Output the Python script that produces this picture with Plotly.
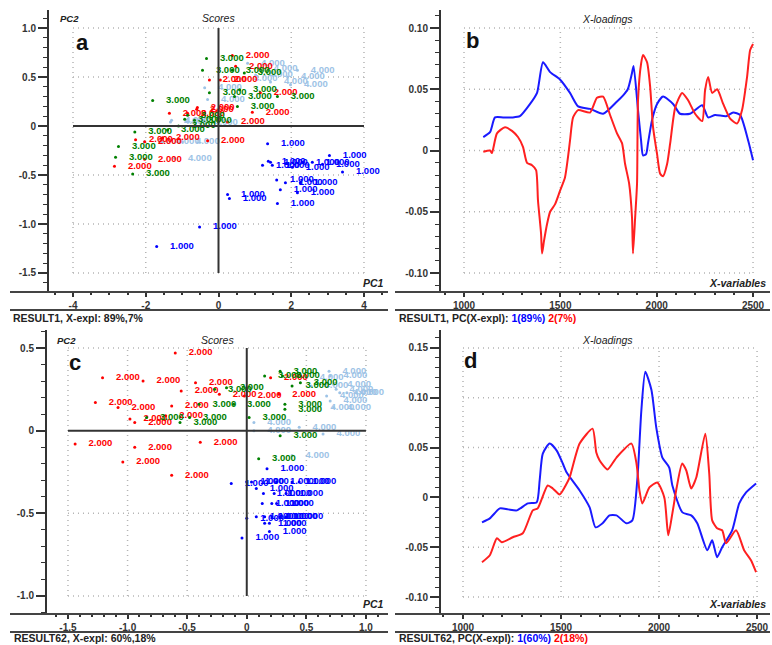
import plotly.graph_objects as go

W, H = 772, 645
FONT = "Liberation Sans"
NB = "\u00a0"

# ---------------- Panel a: scores (RESULT1) ----------------
a1_x = [1.35, 1.43, 1.21, 1.37, 1.48, 2.03, 2.31, 2.58, 2.86, 3.05, 3.41, 1.84, 2.25, 1.70, 2.17, 0.25, 0.30, 1.62, 1.60, -0.52, -1.70]
a1_y = [-0.18, -0.37, -0.40, -0.36, -0.40, -0.42, -0.37, -0.37, -0.39, -0.30, -0.47, -0.58, -0.58, -0.65, -0.68, -0.70, -0.74, -0.79, -0.55, -1.03, -1.23]
a2_x = [0.38, 0.47, -0.25, 0.05, 1.15, 0.93, 0.25, -0.58, -0.85, -1.35, -0.30, -1.54, -2.03, -2.28, -2.86, -2.03, -0.60]
a2_y = [0.72, 0.61, 0.47, 0.47, 0.34, 0.14, 0.04, 0.19, 0.13, 0.13, -0.15, -0.12, -0.16, -0.14, -0.41, -0.34, 0.17]
a3_x = [-0.33, -1.81, -0.44, 0.38, -0.25, 0.58, 0.44, 1.62, 0.52, 0.71, -2.30, -2.75, -2.83, -2.36, -1.40, -0.93, -0.85, -0.66, -1.10]
a3_y = [0.69, 0.26, 0.57, 0.57, 0.34, 0.37, 0.30, 0.30, 0.20, 0.54, -0.06, -0.21, -0.32, -0.49, -0.04, 0.07, 0.11, 0.06, 0.0]
a4_x = [-1.21, 1.15, 1.43, 1.90, 1.98, 0.80, 2.17, 1.02, -0.38, -0.30, -1.29, -2.03, -1.54, -0.99, -1.32, -0.49, 0.60]
a4_y = [-0.33, 0.59, 0.45, 0.50, 0.42, 0.64, 0.57, 0.52, 0.39, 0.27, 0.06, -0.16, -0.16, -0.16, 0.04, 0.03, 0.48]

# ---------------- Panel c: scores (RESULT62) ----------------
c1_x = [0.17, -0.13, 0.0, 0.04, 0.25, 0.38, 0.44, 0.08, 0.14, 0.23, 0.33, 0.21, 0.13, 0.25, 0.0, 0.08, 0.15, 0.21, 0.28, 0.33, 0.19, 0.15, 0.19, -0.04]
c1_y = [-0.23, -0.32, -0.31, -0.31, -0.31, -0.31, -0.31, -0.35, -0.38, -0.38, -0.38, -0.44, -0.44, -0.44, -0.53, -0.52, -0.52, -0.52, -0.52, -0.52, -0.56, -0.56, -0.61, -0.65]
c2_x = [-0.60, -1.21, -0.87, -1.27, -1.08, -0.55, -0.43, -0.63, -0.68, -0.98, -0.94, -0.23, -0.02, 0.20, 0.27, -1.44, -0.94, -1.04, -0.39, -0.63]
c2_y = [0.47, 0.32, 0.30, 0.17, 0.14, 0.24, 0.29, 0.15, 0.09, 0.07, 0.05, 0.22, 0.21, 0.32, 0.22, -0.08, -0.10, -0.19, -0.07, -0.27]
c3_x = [-0.27, -0.17, -0.40, -0.11, -0.84, -0.48, -0.56, 0.02, 0.15, 0.28, 0.38, 0.32, 0.32, 0.28, 0.10, 0.45, 0.30]
c3_y = [0.25, 0.26, 0.16, 0.16, 0.08, 0.08, 0.05, 0.08, 0.33, 0.36, 0.27, 0.16, 0.13, -0.03, -0.17, 0.29, 0.33]
c4_x = [0.69, 0.06, 0.06, 0.44, 0.64, 0.38, 0.70, 0.73, 0.75, 0.78, 0.84, 0.67, 0.70, 0.59, 0.73, 0.50, 0.54]
c4_y = [0.36, 0.05, 0.00, 0.02, -0.02, -0.15, 0.33, 0.28, 0.25, 0.23, 0.23, 0.21, 0.18, 0.14, 0.14, 0.32, 0.27]

class_labels = ["1.000", "2.000", "3.000", "4.000"]
class_colors = ["#0000FF", "#FF0000", "#008000", "#9DC3E6"]

# ---------------- Panel b: loadings (RESULT1) ----------------
b_pc1_x = [1100, 1135, 1161, 1203, 1250, 1290, 1343, 1379, 1410, 1447, 1498, 1550, 1592, 1654, 1722, 1794, 1826, 1850, 1870, 1880, 1903, 1919, 1929, 1945, 1955, 1976, 2002, 2033, 2085, 2121, 2173, 2236, 2267, 2303, 2360, 2397, 2433, 2475, 2500]
b_pc1_y = [0.011, 0.015, 0.027, 0.027, 0.027, 0.028, 0.038, 0.047, 0.072, 0.064, 0.058, 0.047, 0.036, 0.034, 0.030, 0.040, 0.045, 0.050, 0.062, 0.069, 0.033, 0.008, -0.004, -0.003, 0.006, 0.025, 0.038, 0.044, 0.038, 0.030, 0.030, 0.037, 0.027, 0.029, 0.028, 0.031, 0.029, 0.008, -0.008]
b_pc2_x = [1100, 1135, 1145, 1171, 1213, 1249, 1280, 1306, 1327, 1353, 1374, 1384, 1400, 1405, 1415, 1431, 1447, 1472, 1498, 1524, 1540, 1550, 1566, 1592, 1654, 1690, 1722, 1758, 1794, 1820, 1836, 1857, 1872, 1877, 1888, 1898, 1903, 1919, 1929, 1950, 1966, 1981, 2002, 2018, 2033, 2054, 2070, 2096, 2132, 2163, 2199, 2236, 2251, 2267, 2288, 2314, 2345, 2381, 2417, 2443, 2469, 2485, 2500]
b_pc2_y = [-0.001, 0.000, -0.002, 0.014, 0.019, 0.016, 0.011, 0.003, -0.010, -0.012, -0.016, -0.041, -0.068, -0.084, -0.074, -0.060, -0.050, -0.044, -0.033, -0.022, -0.005, 0.008, 0.027, 0.033, 0.031, 0.043, 0.044, 0.029, 0.014, 0.006, -0.011, -0.027, -0.055, -0.084, -0.055, -0.027, 0.041, 0.071, 0.078, 0.072, 0.052, 0.019, -0.003, -0.019, -0.021, -0.011, 0.006, 0.035, 0.047, 0.041, 0.030, 0.024, 0.049, 0.060, 0.047, 0.050, 0.038, 0.026, 0.022, 0.033, 0.060, 0.082, 0.087]

# ---------------- Panel d: loadings (RESULT62) ----------------
d_pc1_x = [1097, 1137, 1188, 1230, 1275, 1331, 1376, 1391, 1407, 1442, 1478, 1509, 1529, 1595, 1646, 1676, 1712, 1747, 1783, 1834, 1864, 1890, 1910, 1930, 1961, 1986, 2017, 2052, 2068, 2119, 2164, 2195, 2246, 2271, 2296, 2322, 2373, 2409, 2444, 2495]
d_pc1_y = [-0.025, -0.021, -0.011, -0.012, -0.013, -0.006, -0.005, 0.017, 0.044, 0.054, 0.047, 0.034, 0.025, 0.007, -0.010, -0.030, -0.026, -0.018, -0.018, -0.026, -0.023, 0.020, 0.088, 0.126, 0.108, 0.070, 0.040, 0.030, 0.012, -0.015, -0.018, -0.026, -0.053, -0.043, -0.060, -0.050, -0.033, -0.006, 0.005, 0.014]
d_pc2_x = [1097, 1137, 1173, 1198, 1254, 1305, 1356, 1381, 1432, 1458, 1493, 1529, 1544, 1595, 1661, 1680, 1697, 1737, 1783, 1859, 1885, 1900, 1915, 1951, 1991, 2027, 2047, 2068, 2090, 2118, 2139, 2164, 2190, 2236, 2256, 2271, 2296, 2322, 2342, 2393, 2434, 2469, 2495]
d_pc2_y = [-0.065, -0.058, -0.041, -0.045, -0.040, -0.036, -0.013, -0.011, 0.012, 0.009, 0.003, 0.014, 0.020, 0.054, 0.069, 0.045, 0.037, 0.028, 0.040, 0.054, 0.034, 0.007, -0.006, 0.010, 0.015, 0.000, -0.038, -0.016, 0.010, 0.034, 0.027, 0.009, 0.020, 0.064, 0.024, -0.023, -0.031, -0.033, -0.046, -0.033, -0.053, -0.063, -0.075]

# ---------------- tick definitions ----------------
a_xticks = [-4, -2, 0, 2, 4]
a_xtext = ["-4", "-2", "0", "2", "4"]
a_yticks = [1.0, 0.5, 0, -0.5, -1.0, -1.5]
a_ytext = ["1.0", "0.5", "0", "-0.5", "-1.0", "-1.5"]
c_xticks = [-1.5, -1.0, -0.5, 0, 0.5, 1.0]
c_xtext = ["-1.5", "-1.0", "-0.5", "0", "0.5", "1.0"]
c_yticks = [0.5, 0, -0.5, -1.0]
c_ytext = ["0.5", "0", "-0.5", "-1.0"]
bd_xticks = [1000, 1500, 2000, 2500]
bd_xtext = ["1000", "1500", "2000", "2500"]
b_yticks = [0.10, 0.05, 0, -0.05, -0.10]
b_ytext = ["0.10", "0.05", "0", "-0.05", "-0.10"]
d_yticks = [0.15, 0.10, 0.05, 0, -0.05, -0.10]
d_ytext = ["0.15", "0.10", "0.05", "0", "-0.05", "-0.10"]


def fx(p):
    return p / W


def fy(p):
    return 1 - p / H


fig = go.Figure()


def add_scores(xs_list, ys_list, xa, ya):
    order = [3, 0, 1, 2]
    for i in order:
        xs, ys = xs_list[i], ys_list[i]
        fig.add_trace(go.Scatter(
            x=xs, y=ys, xaxis=xa, yaxis=ya, mode="markers+text",
            text=[NB * 4 + class_labels[i]] * len(xs),
            textposition="middle right",
            textfont=dict(family=FONT, size=9.5, color=class_colors[i], weight="bold"),
            marker=dict(size=3, color=class_colors[i]),
            cliponaxis=False, showlegend=False, hoverinfo="skip"))


add_scores([a1_x, a2_x, a3_x, a4_x], [a1_y, a2_y, a3_y, a4_y], "x", "y")
add_scores([c1_x, c2_x, c3_x, c4_x], [c1_y, c2_y, c3_y, c4_y], "x3", "y3")

for xs, ys, col, xa, ya in [
    (b_pc1_x, b_pc1_y, "#1a1aff", "x2", "y2"),
    (b_pc2_x, b_pc2_y, "#ff2020", "x2", "y2"),
    (d_pc1_x, d_pc1_y, "#1a1aff", "x4", "y4"),
    (d_pc2_x, d_pc2_y, "#ff2020", "x4", "y4"),
]:
    fig.add_trace(go.Scatter(x=xs, y=ys, xaxis=xa, yaxis=ya, mode="lines",
                             line=dict(color=col, width=2, shape="spline", smoothing=0.6),
                             showlegend=False, hoverinfo="skip"))

tickfont = dict(family=FONT, size=10, color="#333333", weight="bold")


def xaxis(dom_px, rng, tv, tt, anchor, minor_dtick):
    return dict(domain=[fx(dom_px[0]), fx(dom_px[1])], range=rng, anchor=anchor,
                automargin=False,
                showgrid=False, zeroline=False, showline=False,
                tickmode="array", tickvals=tv, ticktext=tt,
                ticks="outside", ticklen=4, tickwidth=1.5, tickcolor="#333333",
                minor=dict(ticks="outside", ticklen=2, tickwidth=1.5, tickcolor="#333333",
                           tickmode="linear", tick0=0, dtick=minor_dtick, showgrid=False),
                tickfont=tickfont, fixedrange=True)


def yaxis(dom_py, rng, tv, tt, anchor, minor_dtick):
    return dict(domain=[fy(dom_py[1]), fy(dom_py[0])], range=rng, anchor=anchor,
                automargin=False,
                showgrid=False, zeroline=False, showline=True, linecolor="#333333", linewidth=2,
                tickmode="array", tickvals=tv, ticktext=tt,
                ticks="outside", ticklen=9, tickwidth=1.5, tickcolor="#333333",
                minor=dict(ticks="outside", ticklen=4, tickwidth=1, tickcolor="#333333",
                           tickmode="linear", tick0=0, dtick=minor_dtick, showgrid=False),
                tickfont=tickfont, fixedrange=True)


fig.update_layout(
    template="none",
    width=W, height=H, margin=dict(l=0, r=0, t=0, b=0, pad=0),
    paper_bgcolor="white", plot_bgcolor="white",
    xaxis=xaxis((49, 388), [-4.66, 4.66], a_xticks, a_xtext, "y", 0.5),
    yaxis=yaxis((10, 292), [-1.694, 1.184], a_yticks, a_ytext, "x", 0.1),
    xaxis2=xaxis((441, 770), [880.6, 2588], bd_xticks, bd_xtext, "y2", 100),
    yaxis2=yaxis((10, 292), [-0.1155, 0.1147], b_yticks, b_ytext, "x2", 0.01),
    xaxis3=xaxis((47, 388), [-1.676, 1.185], c_xticks, c_xtext, "y3", 0.1),
    yaxis3=yaxis((330, 614), [-1.109, 0.609], c_yticks, c_ytext, "x3", 0.1),
    xaxis4=xaxis((441, 770), [887.8, 2566], bd_xticks, bd_xtext, "y4", 100),
    yaxis4=yaxis((330, 614), [-0.117, 0.168], d_yticks, d_ytext, "x4", 0.01),
)

shapes = []
GRID = dict(color="#b4b4b4", width=1.5, dash="1px,4px")
ZERO = dict(color="#333333", width=2)


def grid(xa, ya, xt, yt, zero_solid):
    x0, x1 = min(xt), max(xt)
    y0, y1 = min(yt), max(yt)
    for v in xt:
        solid = zero_solid and v == 0
        shapes.append(dict(type="line", xref=xa, yref=ya, x0=v, x1=v, y0=y0, y1=y1,
                           line=ZERO if solid else GRID, layer="below" if not solid else "above"))
    for v in yt:
        solid = zero_solid and v == 0
        shapes.append(dict(type="line", xref=xa, yref=ya, x0=x0, x1=x1, y0=v, y1=v,
                           line=ZERO if solid else GRID, layer="below" if not solid else "above"))


grid("x", "y", a_xticks, a_yticks, True)
grid("x3", "y3", c_xticks, c_yticks, True)
grid("x2", "y2", bd_xticks, b_yticks, False)
grid("x4", "y4", bd_xticks, d_yticks, False)

# panel frame lines (axis baselines and separators)
for (xl, xr), ys in [((10, 388), (292, 310)), ((395, 770), (292, 310)),
                     ((10, 388), (614, 632)), ((395, 770), (614, 632))]:
    for yy in ys:
        shapes.append(dict(type="line", xref="paper", yref="paper",
                           x0=fx(xl), x1=fx(xr), y0=fy(yy), y1=fy(yy),
                           line=dict(color="#444444", width=2)))

fig.update_layout(shapes=shapes)

ann = []


def text(x, y, s, size=10, color="#222222", italic=False, weight="normal", xanchor="center"):
    ann.append(dict(xref="paper", yref="paper", x=fx(x), y=fy(y), text=s, showarrow=False,
                    xanchor=xanchor, yanchor="middle",
                    font=dict(family=FONT, size=size, color=color,
                              style="italic" if italic else "normal", weight=weight)))


# panel titles / axis names
text(58, 18, "PC2", 9.5, italic=True, weight="bold", xanchor="left")
text(218, 18, "Scores", 10.5, italic=True)
text(386, 283, "PC1", 10.5, italic=True, weight="bold", xanchor="right")
text(607, 19, "X-loadings", 10.5, italic=True)
text(768, 283, "X-variables", 10.5, italic=True, weight="bold", xanchor="right")

text(55, 340, "PC2", 9.5, italic=True, weight="bold", xanchor="left")
text(217, 340, "Scores", 10.5, italic=True)
text(386, 604, "PC1", 10.5, italic=True, weight="bold", xanchor="right")
text(607, 340, "X-loadings", 10.5, italic=True)
text(768, 604, "X-variables", 10.5, italic=True, weight="bold", xanchor="right")

# panel letters
text(82, 43, "a", 22, color="#111111", weight="bold")
text(473, 41, "b", 22, color="#111111", weight="bold")
text(75, 362, "c", 22, color="#111111", weight="bold")
text(470, 361, "d", 22, color="#111111", weight="bold")

# captions
text(11, 318, "RESULT1, X-expl: 89%,7%", 10.5, weight="bold", xanchor="left")
text(397, 318, "RESULT1, PC(X-expl): <span style='color:#0000FF'>1(89%)</span> "
               "<span style='color:#FF0000'>2(7%)</span>", 10.5, weight="bold", xanchor="left")
text(12, 638, "RESULT62, X-expl: 60%,18%", 10.5, weight="bold", xanchor="left")
text(397, 638, "RESULT62, PC(X-expl): <span style='color:#0000FF'>1(60%)</span> "
               "<span style='color:#FF0000'>2(18%)</span>", 10.5, weight="bold", xanchor="left")

fig.update_layout(annotations=ann)

fig.write_html("out.html", config={"displayModeBar": False},
               post_script="document.body.style.margin='0';document.body.style.overflow='hidden';")
